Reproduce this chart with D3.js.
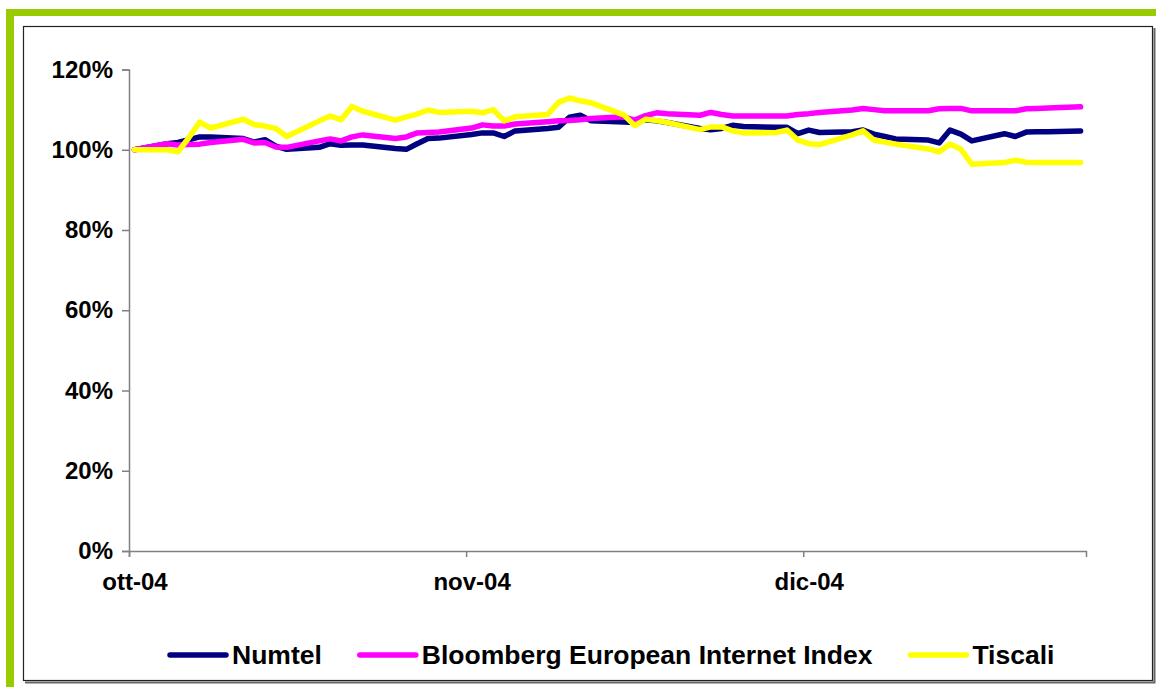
<!DOCTYPE html>
<html>
<head>
<meta charset="utf-8">
<script src="https://cdn.jsdelivr.net/npm/d3@7"></script>
<style>
  body { margin: 0; background: #fff; }
  text { font-family: "Liberation Sans", Arial, sans-serif; font-weight: bold; fill: #000; }
</style>
</head>
<body>
<div class="chart"></div>
<script>
// Trading days (Oct - Dec 2004)
var dates = [
  "2004-10-01",
  "2004-10-04", "2004-10-05", "2004-10-06", "2004-10-07", "2004-10-08",
  "2004-10-11", "2004-10-12", "2004-10-13", "2004-10-14", "2004-10-15",
  "2004-10-18", "2004-10-19", "2004-10-20", "2004-10-21", "2004-10-22",
  "2004-10-25", "2004-10-26", "2004-10-27", "2004-10-28", "2004-10-29",
  "2004-11-01", "2004-11-02", "2004-11-03", "2004-11-04", "2004-11-05",
  "2004-11-08", "2004-11-09", "2004-11-10", "2004-11-11", "2004-11-12",
  "2004-11-15", "2004-11-16", "2004-11-17", "2004-11-18", "2004-11-19",
  "2004-11-22", "2004-11-23", "2004-11-24", "2004-11-25", "2004-11-26",
  "2004-11-29", "2004-11-30", "2004-12-01", "2004-12-02", "2004-12-03",
  "2004-12-06", "2004-12-07", "2004-12-08", "2004-12-09", "2004-12-10",
  "2004-12-13", "2004-12-14", "2004-12-15", "2004-12-16", "2004-12-17",
  "2004-12-20", "2004-12-21", "2004-12-22", "2004-12-23", "2004-12-24",
  "2004-12-27"
];

// Values in % (base 100)
var numtel = [
  100,
  101.5, 101.8, 102.5, 103.2, 103.2,
  102.8, 101.9, 102.5, 100.9, 100.1,
  100.6, 101.5, 101.1, 101.2, 101.2,
  100.3, 100.1, 101.5, 102.8, 102.9,
  103.8, 104.2, 104.2, 103.3, 104.7,
  105.3, 105.6, 108.1, 108.6, 107.2,
  106.9, 106.8, 107.5, 107.2, 106.8,
  105.3, 105.0, 105.3, 106.1, 105.8,
  105.6, 105.6, 104.0, 104.9, 104.3,
  104.5, 104.9, 103.9, 103.3, 102.7,
  102.4, 101.7, 104.9, 103.9, 102.2,
  104.0, 103.3, 104.4, 104.5, 104.5,
  104.7
];
var bloomberg = [
  100,
  101.5, 101.2, 101.3, 101.4, 101.8,
  102.6, 101.7, 101.8, 100.7, 100.6,
  102.2, 102.7, 102.2, 103.2, 103.7,
  102.8, 103.2, 104.2, 104.3, 104.4,
  105.4, 106.2, 105.9, 105.9, 106.4,
  107.0, 107.2, 107.3, 107.5, 107.8,
  108.2, 107.4, 108.5, 109.2, 109.0,
  108.6, 109.3, 108.8, 108.4, 108.4,
  108.4, 108.4, 108.8, 109.0, 109.3,
  109.9, 110.3, 110.0, 109.7, 109.7,
  109.7, 110.2, 110.3, 110.3, 109.7,
  109.7, 109.7, 110.2, 110.3, 110.4,
  110.7
];
var tiscali = [
  100,
  100, 99.5, 103.0, 106.9, 105.4,
  107.6, 106.3, 105.9, 105.3, 103.3,
  107.2, 108.4, 107.5, 110.8, 109.6,
  107.4, 108.2, 108.9, 109.9, 109.3,
  109.6, 109.2, 110.0, 107.2, 108.2,
  108.8, 111.8, 112.9, 112.2, 111.7,
  108.7, 106.0, 107.6, 107.3, 106.8,
  105.0, 105.7, 105.7, 104.7, 104.2,
  104.3, 104.9, 102.4, 101.5, 101.3,
  103.7, 104.7, 102.4, 101.9, 101.4,
  100.2, 99.5, 101.4, 100.1, 96.4,
  96.8, 97.4, 96.9, 96.8, 96.8,
  96.8
];

var seriesNames = ["Numtel", "Bloomberg European Internet Index", "Tiscali"];
var seriesColors = ["#000080", "#ff00ff", "#ffff00"];
var xTickLabels = ["ott-04", "nov-04", "dic-04"];
var yTicks = [0, 20, 40, 60, 80, 100, 120];

var parse = d3.timeParse("%Y-%m-%d");
var start = parse("2004-10-01");
var days = dates.map(function(d) { return d3.timeDay.count(start, parse(d)); });

// Svg container
var svg = d3.select(".chart").append("svg")
            .attr("width", 1156)
            .attr("height", 687);

svg.append("rect").attr("width", 1156).attr("height", 687).attr("fill", "#fff");

// Green border
svg.append("rect").attr("x", 6).attr("y", 9).attr("width", 1150).attr("height", 7).attr("fill", "#99cc00");
svg.append("rect").attr("x", 6).attr("y", 9).attr("width", 8).attr("height", 678).attr("fill", "#99cc00");

// Chart frame with a small shadow on right / bottom
svg.append("path")
   .attr("d", "M1154.5,28V682.5H25")
   .attr("fill", "none")
   .attr("stroke", "#666")
   .attr("stroke-width", 2);
svg.append("rect")
   .attr("x", 23.5).attr("y", 26.5)
   .attr("width", 1129).attr("height", 654)
   .attr("fill", "#fff")
   .attr("stroke", "#222")
   .attr("stroke-width", 1.2);

// Scales: one category per calendar day, points centred in their day
var x = d3.scaleLinear().domain([0, 88]).range([129, 1086]);
var y = d3.scaleLinear().domain([0, 120]).range([551, 69.5]);

// Y axis
var yAxis = svg.append("g")
               .attr("transform", "translate(129,0)")
               .call(d3.axisLeft(y).tickValues(yTicks).tickSize(7).tickPadding(9)
                       .tickFormat(function(d) { return d + "%"; }));
yAxis.select(".domain").attr("stroke", "#808080").attr("stroke-width", 1.5);
yAxis.selectAll(".tick line").attr("stroke", "#808080").attr("stroke-width", 1.5);
yAxis.selectAll("text").style("font-size", "24px");

// X axis: tick marks every 31 days, labels centred on the day
var xAxis = svg.append("g")
               .attr("transform", "translate(0,551)")
               .call(d3.axisBottom(x).tickValues([0, 31, 62]).tickSize(6).tickFormat(""));
xAxis.select(".domain").attr("stroke", "#808080").attr("stroke-width", 1.5);
xAxis.selectAll(".tick line").attr("stroke", "#808080").attr("stroke-width", 1.5);

var xLabels = svg.append("g")
                 .attr("transform", "translate(0,551)")
                 .call(d3.axisBottom(x).tickValues([0.5, 31.5, 62.5]).tickSize(0).tickPadding(22)
                         .tickFormat(function(d, i) { return xTickLabels[i]; }));
xLabels.select(".domain").remove();
xLabels.selectAll("text").style("font-size", "24px");

// Lines
var line = d3.line()
             .x(function(d) { return x(d[0] + 0.5); })
             .y(function(d) { return y(d[1]); });

[numtel, bloomberg, tiscali].forEach(function(vals, k) {
  svg.append("path")
     .datum(days.map(function(d, i) { return [d, vals[i]]; }))
     .attr("d", line)
     .attr("fill", "none")
     .attr("stroke", seriesColors[k])
     .attr("stroke-width", 5.5)
     .attr("stroke-linejoin", "round")
     .attr("stroke-linecap", "round");
});

// Legend
var lx = 168;
var legend = svg.append("g").attr("transform", "translate(0,655)");
seriesNames.forEach(function(name, k) {
  legend.append("line")
        .attr("x1", lx + 2).attr("x2", lx + 58)
        .attr("stroke", seriesColors[k])
        .attr("stroke-width", 5.5)
        .attr("stroke-linecap", "round");
  var t = legend.append("text")
                .attr("x", lx + 64)
                .attr("dy", "0.35em")
                .style("font-size", "26.5px")
                .text(name);
  lx += 64 + t.node().getComputedTextLength() + 36;
});
</script>
</body>
</html>
